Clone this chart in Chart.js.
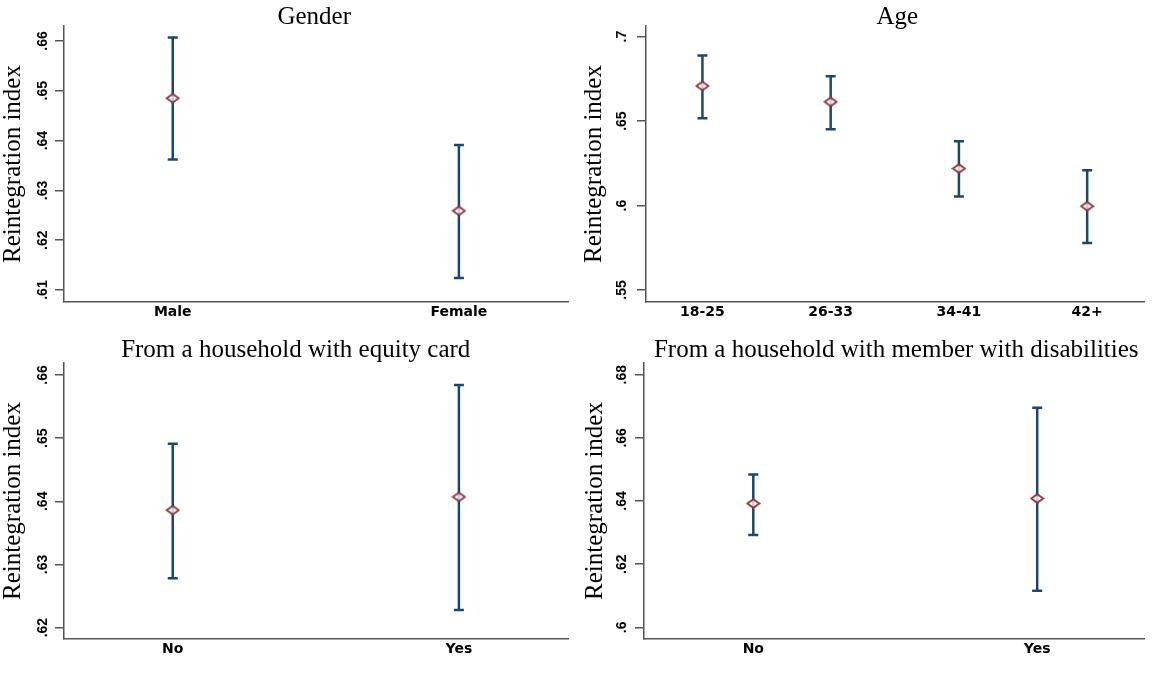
<!DOCTYPE html>
<html>
<head>
<meta charset="utf-8">
<script src="https://cdn.jsdelivr.net/npm/chart.js@4"></script>
<style>
  body { margin: 0; background: #fff; }
  #wrap { position: relative; width: 1152px; height: 675px; }
  .panel { position: absolute; }
</style>
</head>
<body>
<div id="wrap">
  <div class="panel" style="left:0;top:0;width:576px;height:330px"><canvas id="gender"></canvas></div>
  <div class="panel" style="left:576px;top:0;width:576px;height:330px"><canvas id="age"></canvas></div>
  <div class="panel" style="left:0;top:330px;width:576px;height:345px"><canvas id="equity"></canvas></div>
  <div class="panel" style="left:576px;top:330px;width:576px;height:345px"><canvas id="disab"></canvas></div>
</div>
<script>
// values (mean and 95% CI)
const genderCats = ['Male', 'Female'];
const genderMean = [0.6485, 0.6259];
const genderLow = [0.6362, 0.6124];
const genderHigh = [0.6607, 0.6391];
const genderTicks = [0.61, 0.62, 0.63, 0.64, 0.65, 0.66];

const ageCats = ['18-25', '26-33', '34-41', '42+'];
const ageMean = [0.6708, 0.6614, 0.6219, 0.5996];
const ageLow = [0.6517, 0.6452, 0.6053, 0.5778];
const ageHigh = [0.6888, 0.6766, 0.6381, 0.6209];
const ageTicks = [0.55, 0.6, 0.65, 0.7];

const equityCats = ['No', 'Yes'];
const equityMean = [0.6386, 0.6407];
const equityLow = [0.6278, 0.6228];
const equityHigh = [0.6491, 0.6584];
const equityTicks = [0.62, 0.63, 0.64, 0.65, 0.66];

const disabCats = ['No', 'Yes'];
const disabMean = [0.6392, 0.6408];
const disabLow = [0.6292, 0.6116];
const disabHigh = [0.6484, 0.6695];
const disabTicks = [0.6, 0.62, 0.64, 0.66, 0.68];

const navy = 'rgb(26, 71, 111)';
const maroon = 'rgb(144, 53, 59)';
const axisGrey = '#555';

// hollow diamond marker, a bit wider than tall like the original
const diamond = document.createElement('canvas');
diamond.width = 15;
diamond.height = 11;
(function(){
    let c = diamond.getContext('2d');
    c.beginPath();
    c.moveTo(1.5, 5.5);
    c.lineTo(7.5, 1.2);
    c.lineTo(13.5, 5.5);
    c.lineTo(7.5, 9.8);
    c.closePath();
    c.fillStyle = 'rgba(255,255,255,0.75)';
    c.fill();
    c.strokeStyle = maroon;
    c.lineWidth = 1.8;
    c.stroke();
})();

// title drawn centred over the plot area
const panelTitle = {
    id: 'panelTitle',
    afterDraw(chart, args, opts) {
        let ctx = chart.ctx;
        let area = chart.chartArea;
        ctx.save();
        ctx.font = '25px "Liberation Serif"';
        ctx.fillStyle = '#000';
        ctx.textAlign = 'center';
        ctx.textBaseline = 'alphabetic';
        ctx.fillText(opts.text, (area.left + area.right) / 2 + opts.shift, opts.baseline);
        ctx.restore();
    }
};

function fmtTick(v){
    return String(+v.toFixed(2)).replace(/^0\./, '.');
}

function makePanel(id, p){
    let datasets = [{
        type: 'scatter',
        data: p.cats.map((c, i) => ({x: i + 1, y: p.mean[i]})),
        pointStyle: diamond,
        pointRadius: 6,
        pointHoverRadius: 6
    }];
    p.cats.forEach((c, i) => {
        datasets.push({
            type: 'line',
            showLine: true,
            data: [{x: i + 1, y: p.low[i]}, {x: i + 1, y: p.high[i]}],
            borderColor: navy,
            borderWidth: 2.5,
            pointStyle: 'line',
            pointRadius: 5,
            pointBorderWidth: 2.5,
            pointBorderColor: navy,
            pointBackgroundColor: navy
        });
    });
    return new Chart(document.getElementById(id), {
        type: 'scatter',
        data: { datasets: datasets },
        plugins: [panelTitle],
        options: {
            responsive: true,
            maintainAspectRatio: false,
            animation: false,
            layout: { padding: p.pad },
            plugins: {
                legend: { display: false },
                tooltip: { enabled: false },
                panelTitle: { text: p.title, shift: p.titleShift, baseline: p.titleBase }
            },
            scales: {
                x: {
                    type: 'linear',
                    min: p.xMin,
                    max: p.xMax,
                    grid: { display: false, drawTicks: false },
                    border: { display: true, color: axisGrey, width: 1.5 },
                    afterBuildTicks: s => { s.ticks = p.cats.map((c, i) => ({value: i + 1})); },
                    afterFit: s => { s.height = 28; },
                    ticks: {
                        autoSkip: false,
                        maxRotation: 0,
                        padding: 2,
                        color: '#000',
                        font: { family: 'DejaVu Sans', size: 14, weight: 'bold' },
                        callback: v => p.cats[Math.round(v) - 1]
                    }
                },
                y: {
                    type: 'linear',
                    min: p.yMin,
                    max: p.yMax,
                    grid: { display: true, drawOnChartArea: false, drawTicks: true, tickLength: 9, color: axisGrey, lineWidth: 1.5 },
                    border: { display: true, color: axisGrey, width: 1.5 },
                    afterBuildTicks: s => { s.ticks = p.ticks.map(v => ({value: v})); },
                    afterFit: s => { s.width = p.yWidth; },
                    ticks: {
                        minRotation: 90,
                        maxRotation: 90,
                        crossAlign: 'center',
                        padding: p.tickPad,
                        color: '#000',
                        font: { family: 'Liberation Sans', size: 14, weight: 'bold' },
                        callback: v => fmtTick(v)
                    },
                    title: {
                        display: true,
                        text: 'Reintegration index',
                        color: '#000',
                        padding: { top: p.titlePad, bottom: 0 },
                        font: { family: 'Liberation Serif', size: 25, lineHeight: 1 }
                    }
                }
            }
        }
    });
}

makePanel('gender', {
    title: 'Gender', titleShift: -2, titleBase: 23.5,
    cats: genderCats, mean: genderMean, low: genderLow, high: genderHigh, ticks: genderTicks,
    xMin: 0.62, xMax: 2.383, yMin: 0.6076, yMax: 0.663,
    pad: { top: 26, right: 6, bottom: 0, left: 0 }, yWidth: 64, tickPad: 2.25, titlePad: 0.5
});
makePanel('age', {
    title: 'Age', titleShift: 2, titleBase: 24,
    cats: ageCats, mean: ageMean, low: ageLow, high: ageHigh, ticks: ageTicks,
    xMin: 0.56, xMax: 4.447, yMin: 0.5429, yMax: 0.7063,
    pad: { top: 26, right: 2, bottom: 0, left: 0 }, yWidth: 70, tickPad: 5.5, titlePad: 5.5
});
makePanel('equity', {
    title: 'From a household with equity card', titleShift: -20.5, titleBase: 27.3,
    cats: equityCats, mean: equityMean, low: equityLow, high: equityHigh, ticks: equityTicks,
    xMin: 0.62, xMax: 2.383, yMin: 0.6182, yMax: 0.6619,
    pad: { top: 33, right: 6, bottom: 8, left: 0 }, yWidth: 64, tickPad: 2.25, titlePad: 0.5
});
makePanel('disab', {
    title: 'From a household with member with disabilities', titleShift: 2, titleBase: 27.3,
    cats: disabCats, mean: disabMean, low: disabLow, high: disabHigh, ticks: disabTicks,
    xMin: 0.615, xMax: 2.378, yMin: 0.5963, yMax: 0.6837,
    pad: { top: 33, right: 2, bottom: 8, left: 0 }, yWidth: 68, tickPad: 3.25, titlePad: 7
});
</script>
</body>
</html>
